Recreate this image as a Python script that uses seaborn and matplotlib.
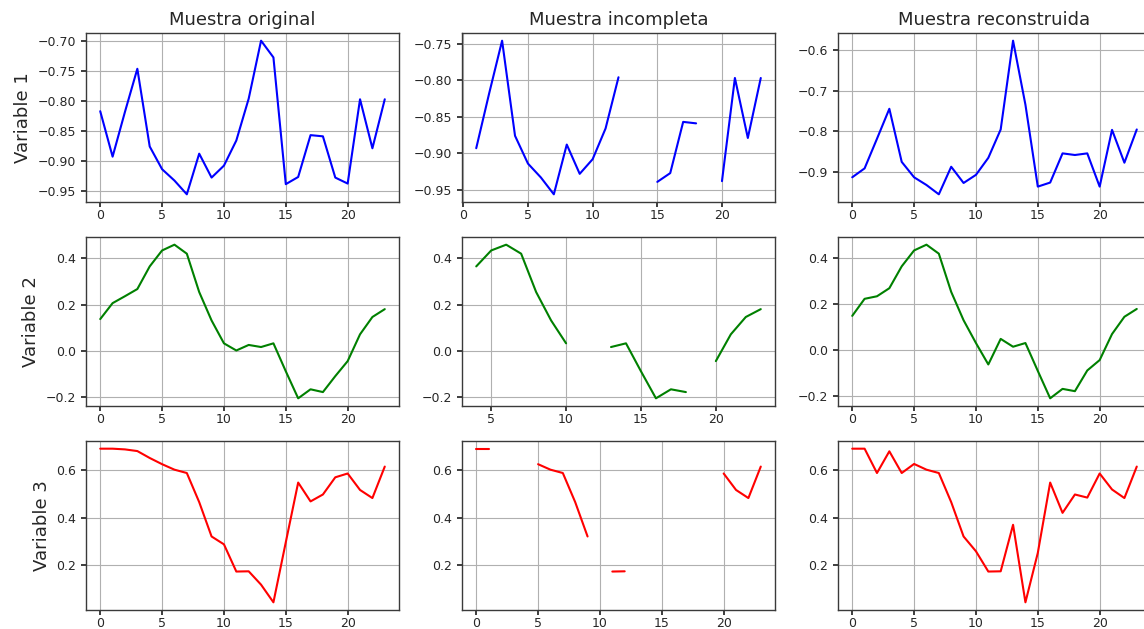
import numpy as np
import pandas as pd
import matplotlib
matplotlib.use("Agg")
import matplotlib.pyplot as plt
import seaborn as sns

nan = np.nan

titles = ["Muestra original", "Muestra incompleta", "Muestra reconstruida"]
row_labels = ["Variable 1", "Variable 2", "Variable 3"]
colors = ["#0000ff", "#008000", "#ff0000"]
t = list(range(24))

# Variable 1
v1_original = [-0.817, -0.893, -0.818, -0.746, -0.876, -0.914, -0.933, -0.956,
               -0.888, -0.928, -0.908, -0.866, -0.796, -0.699, -0.727, -0.939,
               -0.927, -0.857, -0.859, -0.928, -0.938, -0.797, -0.879, -0.797]
v1_incomplete = [nan, -0.893, -0.818, -0.746, -0.876, -0.914, -0.933, -0.956,
                 -0.888, -0.928, -0.908, -0.866, -0.796, nan, nan, -0.939,
                 -0.927, -0.857, -0.859, nan, -0.938, -0.797, -0.879, -0.797]
v1_reconstructed = [-0.914, -0.892, -0.819, -0.745, -0.876, -0.914, -0.933, -0.956,
                    -0.888, -0.928, -0.908, -0.866, -0.796, -0.577, -0.735, -0.937,
                    -0.927, -0.855, -0.859, -0.855, -0.937, -0.797, -0.878, -0.796]

# Variable 2
v2_original = [0.137, 0.206, 0.236, 0.267, 0.365, 0.434, 0.459, 0.420,
               0.254, 0.131, 0.032, 0.001, 0.025, 0.016, 0.032, -0.089,
               -0.206, -0.167, -0.179, -0.110, -0.045, 0.071, 0.146, 0.180]
v2_incomplete = [nan, nan, nan, nan, 0.365, 0.434, 0.459, 0.420,
                 0.254, 0.131, 0.032, nan, nan, 0.016, 0.032, -0.089,
                 -0.206, -0.167, -0.179, nan, -0.045, 0.071, 0.146, 0.180]
v2_reconstructed = [0.150, 0.224, 0.235, 0.270, 0.365, 0.434, 0.459, 0.420,
                    0.254, 0.131, 0.032, -0.061, 0.050, 0.016, 0.032, -0.089,
                    -0.208, -0.167, -0.177, -0.087, -0.042, 0.071, 0.146, 0.180]

# Variable 3 (the observation at t=14 is isolated between gaps)
v3_original = [0.689, 0.689, 0.686, 0.679, 0.650, 0.624, 0.601, 0.587,
               0.465, 0.321, 0.288, 0.174, 0.175, 0.119, 0.045, 0.297,
               0.547, 0.468, 0.497, 0.569, 0.585, 0.516, 0.482, 0.614]
v3_incomplete = [0.689, 0.689, nan, nan, nan, 0.624, 0.601, 0.587,
                 0.465, 0.321, nan, 0.174, 0.175, nan, 0.045, nan,
                 nan, nan, nan, nan, 0.585, 0.516, 0.482, 0.614]
v3_reconstructed = [0.689, 0.689, 0.587, 0.678, 0.587, 0.625, 0.601, 0.587,
                    0.465, 0.321, 0.259, 0.174, 0.175, 0.370, 0.045, 0.252,
                    0.547, 0.420, 0.497, 0.484, 0.585, 0.518, 0.482, 0.614]

series = [
    [v1_original, v1_incomplete, v1_reconstructed],
    [v2_original, v2_incomplete, v2_reconstructed],
    [v3_original, v3_incomplete, v3_reconstructed],
]

sns.set_theme(style="whitegrid")
plt.rcParams.update({
    "font.family": ["DejaVu Sans"],
    "axes.edgecolor": "#3a3a3a",
    "axes.linewidth": 1.0,
    "grid.color": "#b0b0b0",
    "grid.linewidth": 0.8,
    "xtick.bottom": True,
    "ytick.left": True,
    "xtick.major.size": 3.5,
    "ytick.major.size": 3.5,
    "xtick.major.pad": 1.5,
    "ytick.major.pad": 3.5,
    "xtick.color": "#262626",
    "ytick.color": "#262626",
    "xtick.labelsize": 9,
    "ytick.labelsize": 9,
    "text.color": "#262626",
    "axes.labelcolor": "#262626",
})

W, H = 1144, 629
fig = plt.figure(figsize=(W / 100, H / 100), dpi=100)

col_left = [86, 462, 838]
row_top = [33, 237, 441]
ax_w, ax_h = 313, 169


def segments(values):
    """Frame with a segment id so gaps (NaN) stay unconnected."""
    df = pd.DataFrame({"t": t, "y": values})
    df["seg"] = df["y"].isna().cumsum()
    return df.dropna()


for r in range(3):
    for c in range(3):
        rect = [col_left[c] / W, 1 - (row_top[r] + ax_h) / H, ax_w / W, ax_h / H]
        ax = fig.add_axes(rect)
        df = segments(series[r][c])
        sns.lineplot(data=df, x="t", y="y", units="seg", estimator=None,
                     color=colors[r], linewidth=1.5, ax=ax, legend=False)
        ax.set_xlabel("")
        ax.set_ylabel("")
        ax.grid(True)
        if r == 0:
            ax.set_title(titles[c], fontsize=13, pad=6)
        if c == 0:
            ax.set_ylabel(row_labels[r], fontsize=13)

fig.savefig("out.png", dpi=100)
